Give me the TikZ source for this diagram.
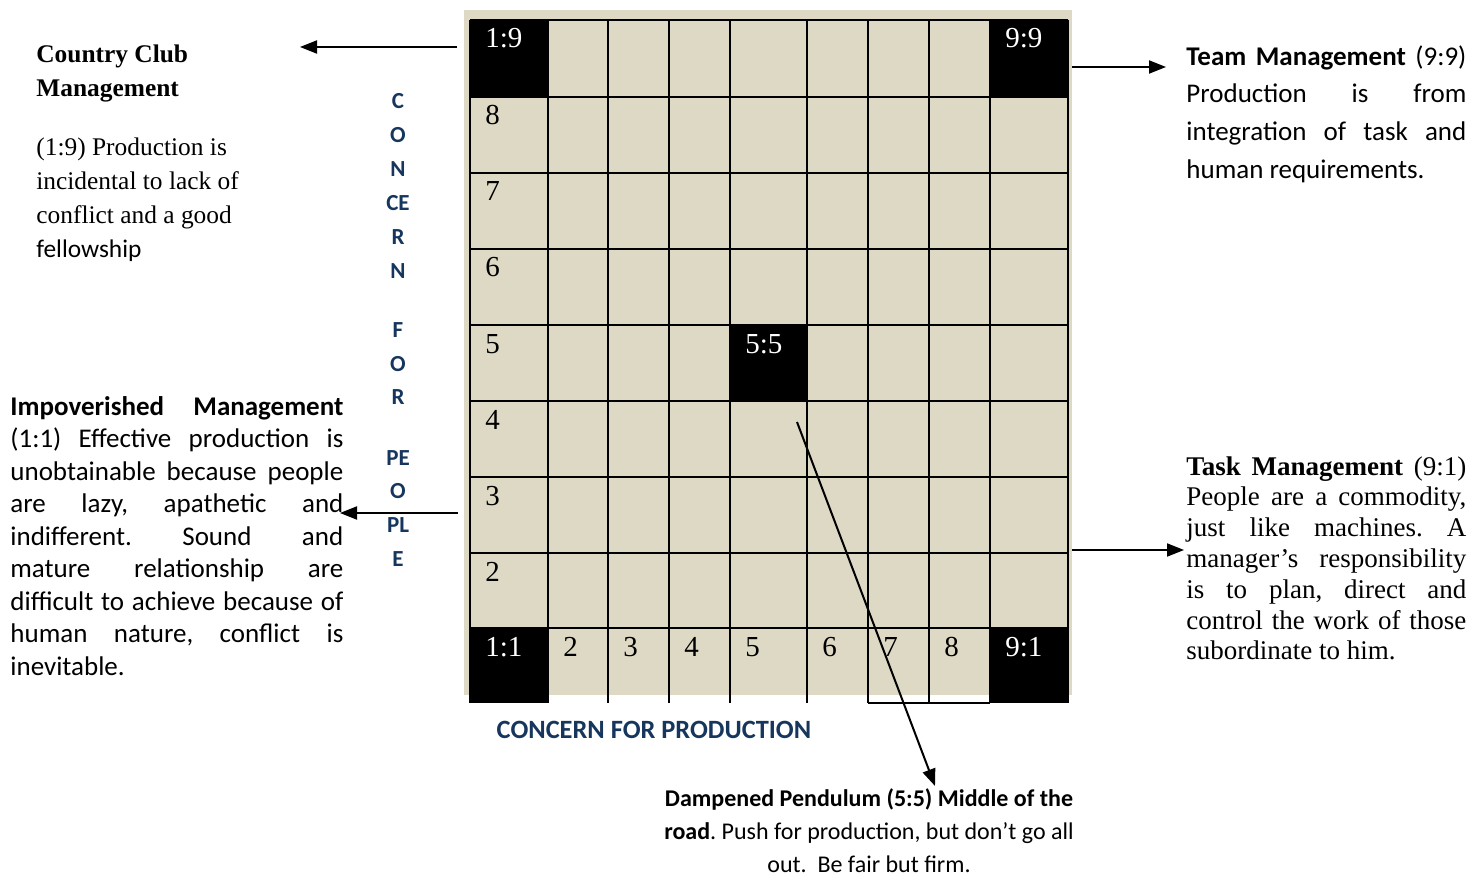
\documentclass[tikz,border=0pt]{standalone}
\usepackage{fontspec}
\setmainfont{Liberation Serif}
\newfontfamily\calib{Carlito}
\usepackage{tikz}
\usetikzlibrary{arrows.meta}
\definecolor{gridtan}{HTML}{DDD9C4}
\definecolor{axisblue}{HTML}{17365D}
\tolerance=10000
\frenchspacing
\tikzset{
    gridline/.style={line width=1pt, black},
    cellnum/.style={anchor=base west, inner sep=0pt, font=\fontsize{14.5}{16}\selectfont},
    darkcell/.style={cellnum, text=white},
    pointer/.style={line width=1pt, -{Triangle[length=8.5pt, width=6.5pt]}},
    sanspara/.style={anchor=north west, inner sep=0pt, align=justify,
        font=\calib\fontsize{13.5}{16.25}\selectfont},
    serifpara/.style={anchor=north west, inner sep=0pt, align=justify,
        font=\fontsize{13.5}{15.4}\selectfont},
    axislabel/.style={inner sep=0pt, text=axisblue, font=\calib\bfseries\fontsize{11.5}{13}\selectfont}
}

\begin{document}
\begin{tikzpicture}[x=0.5pt, y=-0.5pt]
        \useasboundingbox (0,0) rectangle (1478,877);

        % ---------------- the grid ----------------
        \fill[gridtan] (464,10) rectangle (1072,695);

        % dark corner and centre cells
        \foreach \xa/\ya/\xb/\yb in {470/20/548/97, 990/20/1068/97, 730/325/807/401,
                                     470/628/548/703, 990/628/1068/703} {
            \fill[black] (\xa,\ya) rectangle (\xb,\yb);
        }

        % rows and columns
        \foreach \y in {20,97,173,249,325,401,477,553,628} {
            \draw[gridline] (470,\y) -- (1068,\y);
        }
        \foreach \x in {470,548,608,669,730,807,868,929,990,1068} {
            \draw[gridline] (\x,20) -- (\x,703);
        }
        \draw[gridline] (868,703) -- (990,703);

        % cell labels
        \node[darkcell] (cOneNine) at (485,48) {1:9};
        \node[darkcell] (cNineNine) at (1005,48) {9:9};
        \node[darkcell] (cFiveFive) at (745,353) {5:5};
        \node[darkcell] (cOneOne) at (485,656) {1:1};
        \node[darkcell] (cNineOne) at (1005,656) {9:1};
        \foreach \n/\y in {8/97,7/173,6/249,5/325,4/401,3/477,2/553} {
            \node[cellnum] (row\n) at (485,\y+28) {\n};
        }
        \foreach \n/\x in {2/548,3/608,4/669,5/730,6/807,7/868,8/929} {
            \node[cellnum] (col\n) at (\x+15,656) {\n};
        }

        % axis titles
        \foreach \t/\y [count=\i] in {C/101,O/135,N/169,CE/203,R/237,N/271,F/330,O/364,
                                      R/397,PE/458,O/491,PL/525,E/559} {
            \node[axislabel] (people\i) at (398,\y) {\t};
        }
        \node[axislabel, font=\calib\bfseries\fontsize{13.2}{15}\selectfont] (prodAxis) at (654,730) {CONCERN FOR PRODUCTION};

        % ---------------- the five styles ----------------
        \node[serifpara, align=left, font=\fontsize{12.7}{17}\selectfont] (countryClub) at (36,44)
            {\textbf{Country Club}\\ \textbf{Management}\\[12.5pt]
             (1:9) Production is\\ incidental to lack of\\ conflict and a good\\ {\calib fellowship}};

        \node[sanspara, text width=166.5pt] (impoverished) at (10,396)
            {\textbf{Impoverished Management}\linebreak (1:1) Effective production is\linebreak
             unobtainable because people\linebreak are lazy, apathetic and\linebreak
             indifferent. Sound and\linebreak mature relationship are\linebreak
             difficult to achieve because of\linebreak human nature, conflict is\linebreak inevitable.};

        \node[sanspara, text width=140pt, font=\calib\fontsize{13.5}{18.85}\selectfont] (team) at (1186,45)
            {\textbf{Team Management} (9:9)\linebreak Production is from\linebreak
             integration of task and\linebreak human requirements.};

        \node[serifpara, text width=140pt] (task) at (1186,456)
            {\textbf{Task Management} (9:1)\linebreak People are a commodity,\linebreak
             just like machines. A\linebreak manager’s responsibility\linebreak
             is to plan, direct and\linebreak control the work of those\linebreak subordinate to him.};

        \node[anchor=north, inner sep=0pt, align=center, font=\calib\fontsize{12}{16.5}\selectfont] (pendulum) at (869,788)
            {\textbf{Dampened Pendulum (5:5) Middle of the}\\
             \textbf{road}. Push for production, but don’t go all\\ out.\ \ Be fair but firm.};

        % ---------------- pointers ----------------
        \coordinate (ccFrom) at (457,47);
        \coordinate (ccTo) at (300,47);
        \coordinate (teamFrom) at (1072,67);
        \coordinate (teamTo) at (1166,67);
        \coordinate (impFrom) at (458,513);
        \coordinate (impTo) at (340,513);
        \coordinate (taskFrom) at (1072,550);
        \coordinate (taskTo) at (1184,550);
        \coordinate (pendFrom) at (797,422);
        \coordinate (pendTo) at (935,786);

        \draw[pointer] (ccFrom) -- (ccTo);
        \draw[pointer] (teamFrom) -- (teamTo);
        \draw[pointer] (impFrom) -- (impTo);
        \draw[pointer] (taskFrom) -- (taskTo);
        \draw[pointer] (pendFrom) -- (pendTo);
    \end{tikzpicture}
\end{document}
